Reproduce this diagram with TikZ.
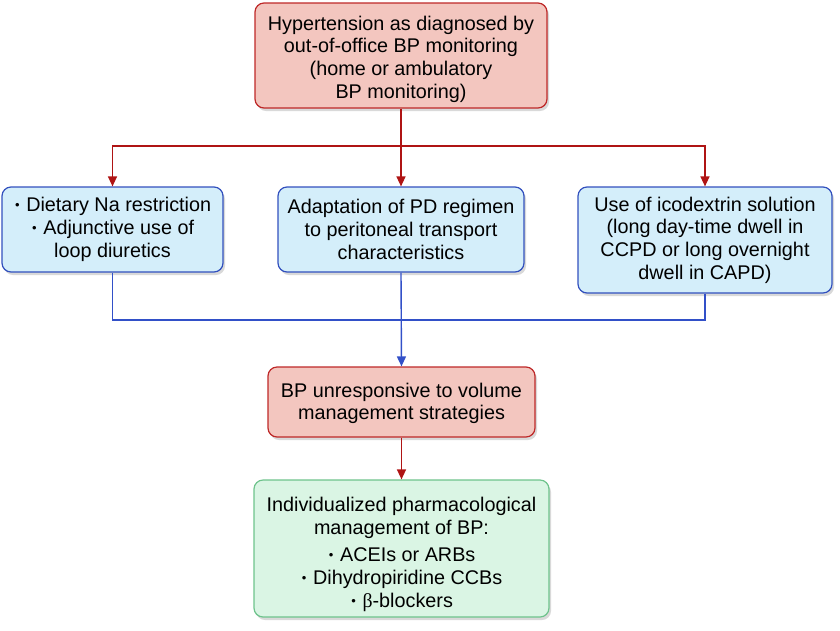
\documentclass[tikz,border=0pt]{standalone}
\usepackage{fontspec}
\setmainfont{Liberation Sans}
\newfontfamily\greekserif{Liberation Serif}
\usetikzlibrary{shadows,arrows.meta}
\definecolor{redfill}{RGB}{243,198,191}
\definecolor{reddraw}{RGB}{190,40,40}
\definecolor{bluefill}{RGB}{212,238,250}
\definecolor{bluedraw}{RGB}{50,80,190}
\definecolor{greenfill}{RGB}{218,245,228}
\definecolor{greendraw}{RGB}{110,195,140}
\definecolor{redline}{RGB}{175,20,20}
\definecolor{blueline}{RGB}{50,80,200}
\newcommand\bul{\makebox[0.35em]{\raisebox{0.1em}{\fontsize{13}{13}\selectfont•}}}
\tikzset{
  box/.style={rounded corners=9pt, line width=1.2pt, align=center, inner sep=2pt,
    font=\fontsize{19.8}{22.7}\selectfont,
    drop shadow={shadow xshift=2pt, shadow yshift=-3pt, opacity=0.25, fill=black!60}},
  redbox/.style={box, fill=redfill, draw=reddraw},
  bluebox/.style={box, fill=bluefill, draw=bluedraw},
  greenbox/.style={box, fill=greenfill, draw=greendraw},
  redconn/.style={draw=redline, line width=1.4pt},
  blueconn/.style={draw=blueline, line width=1.4pt},
  tip/.style={-{Triangle[length=10pt,width=9pt]}}
}
\begin{document}
\begin{tikzpicture}[x=1pt,y=-1pt]
\useasboundingbox (0,0) rectangle (840,630);
\node[redbox, minimum width=292pt, minimum height=105pt] (top) at (401,55.5)
  {\rule{0pt}{21.5pt}Hypertension as diagnosed by\\out-of-office BP monitoring\\(home or ambulatory\\BP monitoring)};
\node[bluebox, minimum width=221pt, minimum height=85pt] (left) at (112.5,229.5)
  {\bul{} Dietary Na restriction\\\bul{} Adjunctive use of\\loop diuretics};
\node[bluebox, minimum width=246pt, minimum height=85pt] (mid) at (401,229.5)
  {Adaptation of PD regimen\\to peritoneal transport\\characteristics};
\node[bluebox, minimum width=254pt, minimum height=106pt] (right) at (705,240)
  {Use of icodextrin solution\\(long day-time dwell in\\CCPD or long overnight\\dwell in CAPD)};
\node[redbox, minimum width=267pt, minimum height=70pt] (bp) at (401.5,402)
  {\rule{0pt}{17pt}BP unresponsive to volume\\management strategies};
\node[greenbox, minimum width=295pt, minimum height=137pt] (ind) at (401.5,548.5)
  {\rule{0pt}{26pt}Individualized pharmacological\\management of BP:\\[4.5pt]\bul{} ACEIs or ARBs\\\bul{} Dihydropiridine CCBs\\\bul{} {\greekserif β}-blockers};
\coordinate (j1) at (401,146);
\coordinate (j2) at (401,320);
\draw[redconn] (top.south) -- (j1);
\draw[redconn, tip] (j1) -| (left.north);
\draw[redconn, tip] (j1) -- (mid.north);
\draw[redconn, tip] (j1) -| (right.north);
\draw[blueconn] (left.south) |- (j2);
\draw[blueconn] (right.south) |- (j2);
\draw[blueconn, tip] (mid.south) -- (bp.north);
\draw[redconn, tip] (bp.south) -- (ind.north);
\end{tikzpicture}
\end{document}
